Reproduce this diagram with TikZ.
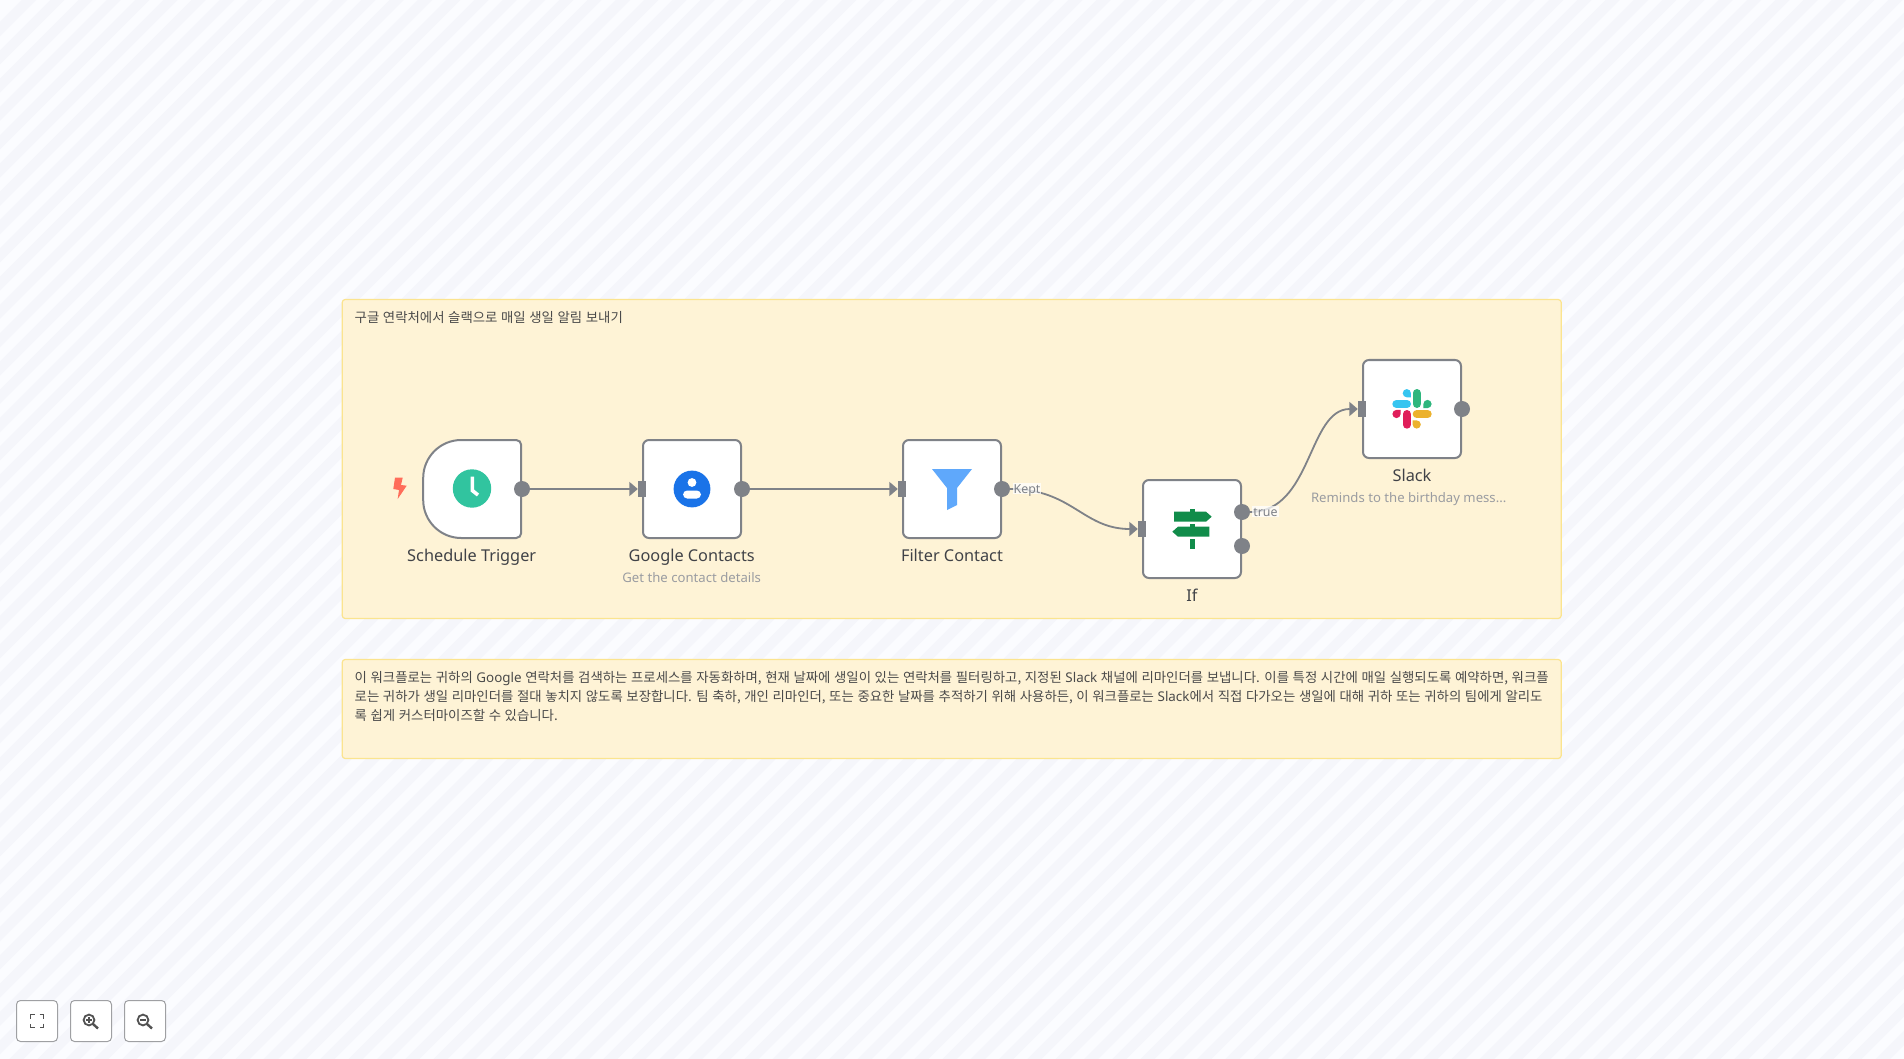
\documentclass[tikz,border=0pt]{standalone}
\usepackage{fontspec}
\setmainfont{Noto Sans}
\newfontfamily\krfont[WordSpace=1.2]{Noto Sans CJK KR}
\usetikzlibrary{arrows.meta, positioning}
\definecolor{bglight}{HTML}{FBFCFF}
\definecolor{bgdark}{HTML}{F5F6FB}
\definecolor{stickyfill}{HTML}{FEF3D6}
\definecolor{stickyline}{HTML}{FBE48F}
\definecolor{nodegray}{HTML}{7F8288}
\definecolor{labeltext}{HTML}{404247}
\definecolor{subtext}{HTML}{9A9CA1}
\definecolor{notetext}{HTML}{4A4A4A}
\definecolor{signgreen}{HTML}{118C4A}
\definecolor{boltred}{HTML}{FF6D5A}
\definecolor{clockgreen}{HTML}{31C49F}
\definecolor{contactblue}{HTML}{1A73E8}
\definecolor{funnelblue}{HTML}{5FA8FB}
\definecolor{slackblue}{HTML}{36C5F0}
\definecolor{slackgreen}{HTML}{2EB67D}
\definecolor{slackred}{HTML}{E01E5A}
\definecolor{slackyellow}{HTML}{ECB22E}
\tikzset{
  appbox/.style={draw=nodegray, line width=2pt, fill=white, rounded corners=6pt,
    minimum width=98pt, minimum height=98pt, inner sep=0pt},
  outdot/.style={circle, fill=nodegray, minimum size=16pt, inner sep=0pt},
  indot/.style={rectangle, fill=nodegray, minimum width=8pt, minimum height=16pt, inner sep=0pt},
  flowline/.style={draw=nodegray, line width=1.8pt, -{Triangle[length=8.5pt,width=14pt]}},
  applabel/.style={font=\fontsize{16.3}{19}\selectfont, text=labeltext, inner sep=0pt, text height=11.6pt, text depth=0pt},
  appsub/.style={font=\fontsize{13.15}{16}\selectfont, text=subtext, inner sep=0pt, text height=9.8pt, text depth=0pt},
  edgelabel/.style={font=\fontsize{12.4}{15}\selectfont, text=nodegray, fill=white, fill opacity=.75, text opacity=1, inner sep=1pt, text height=9pt, text depth=0pt},
  stickybox/.style={draw=stickyline, line width=1.2pt, fill=stickyfill, rounded corners=3pt,
    minimum width=1219pt, inner sep=0pt},
  notetxt/.style={font=\krfont\fontsize{13.4}{19}\selectfont, text=notetext, inner sep=0pt, align=left, anchor=north west},
  toolbtn/.style={draw=black!35!bgdark, line width=1pt, fill=white, rounded corners=4pt,
    minimum size=41pt, inner sep=0pt},
  toolicon/.style={draw=black!68, line width=1.8pt}
}
\begin{document}
\begin{tikzpicture}[x=1pt, y=-1pt]
    \useasboundingbox (0,0) rectangle (1904,1059);

    % Striped canvas
    \fill[bglight] (0,0) rectangle (1904,1059);
    \begin{scope}
      \clip (0,0) rectangle (1904,1059);
      \foreach \sx in {22,50.28,...,3000}
        \fill[bgdark] (\sx,0) -- (\sx+14.14,0) -- (\sx+14.14-1059,1059) -- (\sx-1059,1059) -- cycle;
    \end{scope}

    % Sticky notes
    \node[stickybox, minimum height=319pt] (stickyflow) at (951.7,459) {};
    \node[stickybox, minimum height=99pt] (stickydesc) at (951.7,709) {};
    \node[notetxt] (stickytitle) at (354.5,311) {구글 연락처에서 슬랙으로 매일 생일 알림 보내기};
    \node[notetxt] (desctext) at (354.5,671.4) {이 워크플로는 귀하의 {\rmfamily Google} 연락처를 검색하는 프로세스를 자동화하며, 현재 날짜에 생일이 있는 연락처를 필터링하고, 지정된 {\rmfamily Slack} 채널에 리마인더를 보냅니다. 이를 특정 시간에 매일 실행되도록 예약하면, 워크플\\로는 귀하가 생일 리마인더를 절대 놓치지 않도록 보장합니다. 팀 축하, 개인 리마인더, 또는 중요한 날짜를 추적하기 위해 사용하든, 이 워크플로는 {\rmfamily Slack}에서 직접 다가오는 생일에 대해 귀하 또는 귀하의 팀에게 알리도\\록 쉽게 커스터마이즈할 수 있습니다.};

    % Workflow boxes
    \node[appbox, draw=none, fill=none, outer sep=0pt] (trigger) at (472.2,489) {};
    \draw[draw=nodegray, fill=white, line width=2pt]
      (trigger.north) [rounded corners=5pt] -- (trigger.north east) -- (trigger.south east) -- (trigger.south)
      [sharp corners] -- ++(-11,0) arc[start angle=270, end angle=180, radius=38pt] -- ++(0,-22)
      arc[start angle=180, end angle=90, radius=38pt] -- cycle;
    \node[appbox] (contacts) at (692,489) {};
    \node[appbox] (filter) at (952,489) {};
    \node[appbox] (ifnode) at (1192,529) {};
    \node[appbox] (slack) at (1412,409) {};

    % Ports
    \node[outdot] (triggerout) at (522,489) {};
    \node[outdot] (contactsout) at (contacts.east) {};
    \node[outdot] (filterout) at (filter.east) {};
    \node[outdot] (iftrue) at (1242,512) {};
    \node[outdot] (iffalse) at (1242,546) {};
    \node[outdot] (slackout) at (slack.east) {};
    \node[indot] (contactsin) at (contacts.west) {};
    \node[indot] (filterin) at (filter.west) {};
    \node[indot] (ifin) at (ifnode.west) {};
    \node[indot] (slackin) at (slack.west) {};

    % Connectors
    \draw[flowline] (triggerout) -- (contactsin);
    \draw[flowline] (contactsout) -- (filterin);
    \draw[flowline] (filterout.east) .. controls +(62,0) and +(-55,0) .. (ifin.west);
    \draw[flowline] (iftrue.east) .. controls +(62,0) and +(-50,0) .. (slackin.west);
    \node[edgelabel] (keptlabel) at (1027,488.7) {Kept};
    \node[edgelabel] (truelabel) at (1265.5,511.7) {true};

    % Node names
    \node[applabel] (triggername) at (471.7,556) {Schedule Trigger};
    \node[applabel] (contactsname) at (691.7,556) {Google Contacts};
    \node[appsub] (contactssub) at (691.7,578) {Get the contact details};
    \node[applabel] (filtername) at (952,556) {Filter Contact};
    \node[applabel] (ifname) at (1192,596) {If};
    \node[applabel] (slackname) at (1412,476) {Slack};
    \node[appsub] (slacksub) at (1408.7,498) {Reminds to the birthday mess...};

    % Trigger bolt and clock
    \fill[boltred] (395,477.7) -- (402.7,477.7) -- (401,485) -- (406.7,485.7) -- (397.7,499) -- (399,490) -- (393.3,489) -- cycle;
    \fill[clockgreen] (472,488.5) circle (19.2pt);
    \draw[white, line width=3.6pt] (472.3,476.7) -- (472.3,490.5) -- (478,495);

    % Contact icon
    \fill[contactblue] (692,489) circle (18.4pt);
    \fill[white] (692,482.5) circle (4.4pt);
    \fill[white, rounded corners=4.2pt] (683,498.5) -- (683,490.5) -- (701,490.5) -- (701,498.5) -- cycle;

    % Funnel icon
    \fill[funnelblue] (932,469) -- (972,469) -- (957,488) -- (957,505) -- (947,510) -- (947,488) -- cycle;

    % Signpost icon
    \fill[signgreen] (1174,511.7) -- (1206,511.7) -- (1211.7,516.7) -- (1206,521.7) -- (1174,521.7) -- cycle;
    \fill[signgreen] (1172.3,531.7) -- (1178,526.7) -- (1209.3,526.7) -- (1209.3,536.7) -- (1178,536.7) -- cycle;
    \fill[signgreen] (1189.5,509) rectangle (1194.5,511.7);
    \fill[signgreen] (1189.5,524) rectangle (1194.5,526.7);
    \fill[signgreen] (1189.5,539) rectangle (1194.5,549);

    % Slack icon
    \begin{scope}[line width=8.2pt, line cap=round]
      \draw[slackblue] (1396.4,404) -- (1406.9,404);
      \draw[slackgreen] (1416.7,393.1) -- (1416.7,403.9);
      \draw[slackred] (1406.8,414.1) -- (1406.8,424.6);
      \draw[slackyellow] (1416.8,414.1) -- (1427.6,414.1);
    \end{scope}
    \fill[slackblue] (1406.8,393.2) circle (4.1pt) (1406.8,393.2) rectangle (1410.9,397.3);
    \fill[slackgreen] (1427.5,404) circle (4.1pt) (1423.4,404) rectangle (1427.5,408.1);
    \fill[slackred] (1396.5,414) circle (4.1pt) (1396.5,409.9) rectangle (1400.6,414);
    \fill[slackyellow] (1416.7,424.5) circle (4.1pt) (1412.6,420.4) rectangle (1416.7,424.5);

    % Canvas controls
    \node[toolbtn] (btnfit) at (37,1021) {};
    \node[toolbtn] (btnin) at (91,1021) {};
    \node[toolbtn] (btnout) at (145,1021) {};
    \draw[toolicon] (30.5,1018.5) -- (30.5,1014.5) -- (34.5,1014.5);
    \draw[toolicon] (39.5,1014.5) -- (43.5,1014.5) -- (43.5,1018.5);
    \draw[toolicon] (43.5,1023.5) -- (43.5,1027.5) -- (39.5,1027.5);
    \draw[toolicon] (34.5,1027.5) -- (30.5,1027.5) -- (30.5,1023.5);
    \draw[toolicon] (89,1020) circle (5.4pt);
    \draw[toolicon, line width=2.4pt] (93,1024) -- (98,1028.5);
    \draw[toolicon, line width=1.4pt] (86,1020) -- (92,1020) (89,1017) -- (89,1023);
    \draw[toolicon] (143,1020) circle (5.4pt);
    \draw[toolicon, line width=2.4pt] (147,1024) -- (152,1028.5);
    \draw[toolicon, line width=1.4pt] (140,1020) -- (146,1020);
\end{tikzpicture}
\end{document}
